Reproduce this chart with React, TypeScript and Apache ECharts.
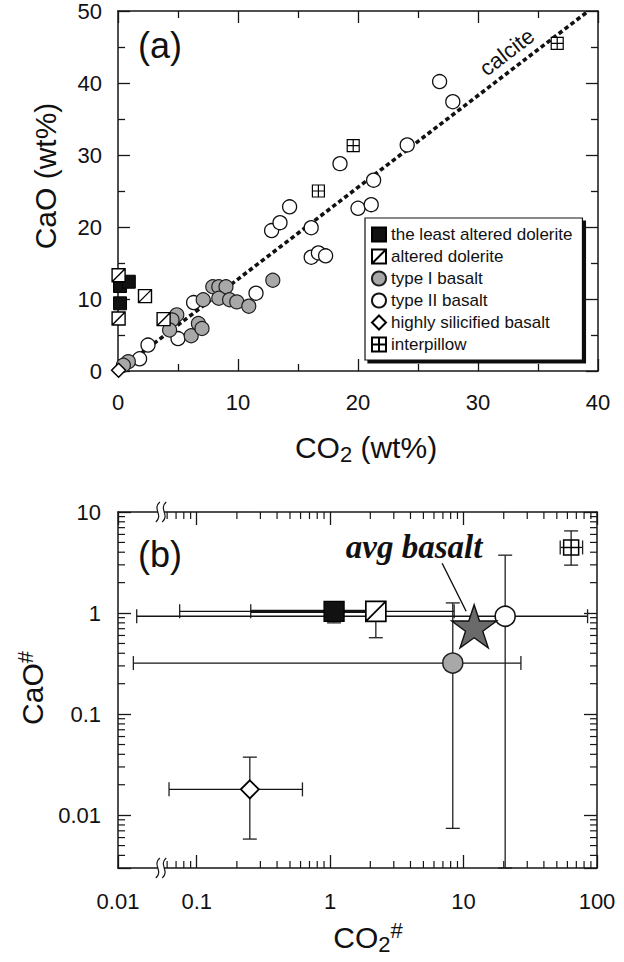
import React, { useEffect, useRef } from 'react';
import * as echarts from 'echarts';

const FONT = '"Liberation Sans", Arial, Helvetica, sans-serif';
const SERIF = '"Liberation Serif", "Times New Roman", serif';
const INK = '#161616';

// ---------- Panel (a): CaO vs CO2 (wt%) ----------
const leastAlteredA = [[0.17, 11.8], [0.9, 12.4], [0.17, 9.4]];
const alteredA = [[0.05, 13.3], [2.25, 10.4], [0.05, 7.3], [3.8, 7.2]];
const typeIA = [
  [0.86, 1.3], [0.45, 0.8], [4.9, 7.8], [4.5, 7.1], [4.3, 5.7], [6.1, 4.9], [6.7, 6.6],
  [7.0, 5.9], [7.1, 9.9], [7.9, 11.7], [8.4, 11.7], [9.0, 11.7], [8.4, 10.1], [9.3, 9.9],
  [9.9, 9.6], [10.9, 9.0], [12.9, 12.6],
];
const typeIIA = [
  [2.5, 3.6], [1.8, 1.7], [5.0, 4.5], [6.3, 9.5], [11.5, 10.8], [12.8, 19.5], [13.5, 20.6],
  [14.3, 22.8], [16.1, 19.9], [16.1, 15.8], [16.7, 16.4], [17.3, 16.0], [18.5, 28.8],
  [21.3, 26.5], [20.0, 22.6], [21.1, 23.1], [24.1, 31.4], [26.8, 40.2], [27.9, 37.4],
];
const silicifiedA = [[0.05, 0.1]];
const interpillowA = [[16.7, 25.0], [19.6, 31.3], [36.6, 45.5]];
const calciteLine = [[0, 0], [39.2, 50]];

// ---------- Panel (b): CaO# vs CO2# (log) ----------
const bNames = [
  'the least altered dolerite', 'altered dolerite', 'type I basalt',
  'type II basalt', 'highly silicified basalt', 'interpillow',
];
const bX = [1.07, 2.2, 8.3, 20.5, 0.25, 64];
const bY = [1.04, 1.04, 0.32, 0.93, 0.018, 4.46];
const bXLow = [0.254, 0.0745, 0.0335, 0.0355, 0.062, 53];
const bXHigh = [2.2, 8.5, 26.9, 85, 0.62, 78];
const bYLow = [0.8, 0.57, 0.0074, 0.003, 0.0058, 2.98];
const bYHigh = [1.2, 1.2, 1.26, 3.74, 0.0375, 6.5];
const bThick = [1, 0, 0, 0, 0, 0];
const avgBasalt = [[12.0, 0.74]];

const X_MIN_B = 0.0257; // left edge (shown as 0.01 beyond the axis break)
const X_MAX_B = 100;
const Y_MIN_B = 0.003;
const Y_MAX_B = 10;
const X_BREAK_B = 0.054;

const minorLog = (from: number, to: number) => {
  const out: number[] = [];
  for (let e = -3; e <= 2; e++) {
    for (let m = 2; m <= 9; m++) {
      const v = Number((m * Math.pow(10, e)).toPrecision(6));
      if (v >= from && v <= to) out.push(v);
    }
  }
  return out;
};
const xMinorB = minorLog(0.055, 99);
const yMinorB = minorLog(0.0031, 9.9);

const SQ_DIAG = 'path://M0,0H10V10H0Z M0,10L10,0';
const SQ_PLUS = 'path://M0,0H10V10H0Z M5,0V10 M0,5H10';
const STAR = 'path://M50,2 L61.2,36 L97,36 L68,57.5 L79.5,92 L50,71 L20.5,92 L32,57.5 L3,36 L38.8,36 Z';

const styles: Record<string, any> = {
  'the least altered dolerite': { symbol: 'rect', color: '#111', borderColor: '#000', borderWidth: 1 },
  'altered dolerite': { symbol: SQ_DIAG, color: '#fff', borderColor: '#000', borderWidth: 1.4 },
  'type I basalt': { symbol: 'circle', color: '#a8a8a8', borderColor: '#1e1e1e', borderWidth: 1.2 },
  'type II basalt': { symbol: 'circle', color: '#fff', borderColor: '#111', borderWidth: 1.3 },
  'highly silicified basalt': { symbol: 'diamond', color: '#fff', borderColor: '#000', borderWidth: 1.5 },
  'interpillow': { symbol: SQ_PLUS, color: '#fff', borderColor: '#000', borderWidth: 1.2 },
};

const fmtLog = (v: number) => {
  const l = Math.log10(v);
  const r = Math.round(l);
  if (Math.abs(l - r) < 1e-6) return String(Number(Math.pow(10, r).toPrecision(6)));
  return '';
};

const axisLineStyle = { color: INK, width: 1.5 };
const tickStyle = { color: INK, width: 1.3 };
const labelBase = { fontSize: 22, color: '#111', fontFamily: FONT };

export default function App() {
  const ref = useRef<HTMLDivElement>(null);
  useEffect(() => {
    if (!ref.current) return;
    const chart = echarts.init(ref.current, undefined, { renderer: 'svg' });

    const valueAxis = (gridIndex: number, position: string, min: number, max: number, interval: number, showLabel: boolean, margin: number) => ({
      gridIndex, type: 'value', position, min, max, interval,
      axisLine: { show: true, onZero: false, lineStyle: axisLineStyle },
      axisTick: { show: true, inside: true, length: 12, lineStyle: tickStyle },
      minorTick: { show: true, splitNumber: 2, length: 7, lineStyle: tickStyle },
      axisLabel: { show: showLabel, margin, ...labelBase },
      splitLine: { show: false }, minorSplitLine: { show: false },
    });
    const logAxis = (gridIndex: number, position: string, min: number, max: number, showLabel: boolean, margin: number, formatter: (v: number) => string) => ({
      gridIndex, type: 'log', logBase: 10, position, min, max,
      axisLine: { show: true, onZero: false, lineStyle: axisLineStyle },
      axisTick: { show: true, inside: true, length: 13, lineStyle: tickStyle },
      minorTick: { show: false },
      axisLabel: { show: showLabel, margin, formatter, showMinLabel: true, showMaxLabel: true, ...labelBase },
      splitLine: { show: false }, minorSplitLine: { show: false },
    });

    const xFmtB = (v: number) => (Math.abs(v / X_MIN_B - 1) < 1e-3 ? '0.01' : fmtLog(v));
    const yFmtB = (v: number) => fmtLog(v);

    const scatterA = (name: string, data: number[][], size: number) => {
      const s = styles[name];
      return {
        name, type: 'scatter', xAxisIndex: 0, yAxisIndex: 0, data,
        symbol: s.symbol, symbolSize: size, clip: false, z: 4,
        itemStyle: { color: s.color, borderColor: s.borderColor, borderWidth: s.borderWidth, opacity: 1 },
      };
    };
    const scatterB = (i: number, size: number) => {
      const name = bNames[i];
      const s = styles[name];
      return {
        name, id: 'b' + i, type: 'scatter', xAxisIndex: 2, yAxisIndex: 2, data: [[bX[i], bY[i]]],
        symbol: s.symbol, symbolSize: size, clip: false, z: 5,
        itemStyle: { color: s.color, borderColor: s.borderColor, borderWidth: s.borderWidth + 0.3, opacity: 1 },
      };
    };

    const errRows = bNames.map((_, i) => [bX[i], bY[i], bXLow[i], bXHigh[i], bYLow[i], bYHigh[i], bThick[i]]);
    const renderErr = (params: any, api: any) => {
      const x = api.value(0), y = api.value(1);
      const pl = api.coord([api.value(2), y]);
      const pr = api.coord([api.value(3), y]);
      const pb = api.coord([x, api.value(4)]);
      const pt = api.coord([x, api.value(5)]);
      const thick = api.value(6) === 1;
      const cap = 7;
      const st = { stroke: '#202020', lineWidth: 1.3 };
      return {
        type: 'group',
        children: [
          { type: 'line', shape: { x1: pl[0], y1: pl[1], x2: pr[0], y2: pr[1] }, style: { stroke: '#151515', lineWidth: thick ? 3.2 : 1.3 } },
          { type: 'line', shape: { x1: pl[0], y1: pl[1] - cap, x2: pl[0], y2: pl[1] + cap }, style: st },
          { type: 'line', shape: { x1: pr[0], y1: pr[1] - cap, x2: pr[0], y2: pr[1] + cap }, style: st },
          { type: 'line', shape: { x1: pb[0], y1: pb[1], x2: pt[0], y2: pt[1] }, style: st },
          { type: 'line', shape: { x1: pb[0] - cap, y1: pb[1], x2: pb[0] + cap, y2: pb[1] }, style: st },
          { type: 'line', shape: { x1: pt[0] - cap, y1: pt[1], x2: pt[0] + cap, y2: pt[1] }, style: st },
        ],
      };
    };
    const renderXMinor = (params: any, api: any) => {
      const v = api.value(0);
      const top = api.coord([v, Y_MAX_B]);
      const bot = api.coord([v, Y_MIN_B]);
      const st = { stroke: INK, lineWidth: 1.2 };
      return {
        type: 'group',
        children: [
          { type: 'line', shape: { x1: top[0], y1: top[1], x2: top[0], y2: top[1] + 7 }, style: st },
          { type: 'line', shape: { x1: bot[0], y1: bot[1], x2: bot[0], y2: bot[1] - 7 }, style: st },
        ],
      };
    };
    const renderYMinor = (params: any, api: any) => {
      const v = api.value(1);
      const l = api.coord([X_MIN_B, v]);
      const r = api.coord([X_MAX_B, v]);
      const st = { stroke: INK, lineWidth: 1.2 };
      return {
        type: 'group',
        children: [
          { type: 'line', shape: { x1: l[0], y1: l[1], x2: l[0] + 7, y2: l[1] }, style: st },
          { type: 'line', shape: { x1: r[0], y1: r[1], x2: r[0] - 7, y2: r[1] }, style: st },
        ],
      };
    };
    const renderBreak = (params: any, api: any) => {
      const p = api.coord([api.value(0), api.value(1)]);
      const mk = (dx: number) => ({
        type: 'bezierCurve',
        shape: {
          x1: p[0] + dx + 2, y1: p[1] - 10, cpx1: p[0] + dx - 6, cpy1: p[1] - 3,
          cpx2: p[0] + dx + 6, cpy2: p[1] + 3, x2: p[0] + dx - 2, y2: p[1] + 10,
        },
        style: { stroke: INK, lineWidth: 1.2, fill: null },
      });
      return {
        type: 'group',
        children: [
          { type: 'rect', shape: { x: p[0] - 3, y: p[1] - 2.5, width: 6, height: 5 }, style: { fill: '#fff' } },
          mk(-3.2), mk(3.2),
        ],
      };
    };
    const renderAnno = (params: any, api: any) => {
      const c = api.coord([api.value(0), api.value(1)]);
      return {
        type: 'group',
        children: [
          { type: 'line', shape: { x1: c[0] - 32, y1: c[1] - 63, x2: c[0] - 8, y2: c[1] - 15 }, style: { stroke: '#111', lineWidth: 1.4 } },
          {
            type: 'text', x: c[0] - 60, y: c[1] - 79,
            style: { text: 'avg basalt', fontFamily: SERIF, fontSize: 33, fontWeight: 'bold', fontStyle: 'italic', fill: '#111', align: 'center', verticalAlign: 'middle' },
          },
        ],
      };
    };

    const option: any = {
      animation: false,
      backgroundColor: '#fff',
      textStyle: { fontFamily: FONT },
      grid: [
        { left: 118, top: 11, width: 480, height: 360 },
        { left: 118, top: 512, width: 479, height: 356 },
      ],
      xAxis: [
        valueAxis(0, 'bottom', 0, 40, 10, true, 20),
        valueAxis(0, 'top', 0, 40, 10, false, 8),
        logAxis(1, 'bottom', X_MIN_B, X_MAX_B, true, 22, xFmtB),
        logAxis(1, 'top', X_MIN_B, X_MAX_B, false, 8, xFmtB),
      ],
      yAxis: [
        valueAxis(0, 'left', 0, 50, 10, true, 16),
        valueAxis(0, 'right', 0, 50, 10, false, 8),
        logAxis(1, 'left', Y_MIN_B, Y_MAX_B, true, 17, yFmtB),
        logAxis(1, 'right', Y_MIN_B, Y_MAX_B, false, 8, yFmtB),
      ],
      legend: {
        data: bNames,
        orient: 'vertical',
        left: 365, top: 218,
        padding: [8, 10, 7, 6],
        itemGap: 5, itemWidth: 14, itemHeight: 14,
        backgroundColor: '#fff', borderColor: '#111', borderWidth: 1.2,
        shadowColor: '#111', shadowBlur: 0, shadowOffsetX: 3, shadowOffsetY: 3,
        textStyle: { fontSize: 17, color: '#111', fontFamily: FONT },
        selectedMode: false,
      },
      graphic: [
        { type: 'text', x: 160, y: 45, style: { text: '(a)', fontSize: 36, fontFamily: FONT, fill: '#111', align: 'center', verticalAlign: 'middle' } },
        { type: 'text', x: 160, y: 554, style: { text: '(b)', fontSize: 36, fontFamily: FONT, fill: '#111', align: 'center', verticalAlign: 'middle' } },
        { type: 'text', x: 45, y: 176, rotation: Math.PI / 2, style: { text: 'CaO (wt%)', fontSize: 30, fontFamily: FONT, fill: '#111', align: 'center', verticalAlign: 'middle' } },
        {
          type: 'text', x: 366, y: 447,
          style: {
            text: 'CO{sub|2} (wt%)', fontSize: 30, fontFamily: FONT, fill: '#111', align: 'center', verticalAlign: 'middle',
            rich: { sub: { fontSize: 22, fontFamily: FONT, fill: '#111', padding: [14, 0, 0, 0] } },
          },
        },
        {
          type: 'text', x: 32, y: 688, rotation: Math.PI / 2,
          style: {
            text: 'CaO{sup|#}', fontSize: 30, fontFamily: FONT, fill: '#111', align: 'center', verticalAlign: 'middle',
            rich: { sup: { fontSize: 22, fontFamily: FONT, fill: '#111', padding: [0, 0, 14, 0] } },
          },
        },
        {
          type: 'text', x: 368, y: 937,
          style: {
            text: 'CO{sub|2}{sup|#}', fontSize: 30, fontFamily: FONT, fill: '#111', align: 'center', verticalAlign: 'middle',
            rich: {
              sub: { fontSize: 22, fontFamily: FONT, fill: '#111', padding: [14, 0, 0, 0] },
              sup: { fontSize: 22, fontFamily: FONT, fill: '#111', padding: [0, 0, 14, 0] },
            },
          },
        },
        { type: 'text', x: 507, y: 52, rotation: 0.653, style: { text: 'calcite', fontSize: 22, fontFamily: FONT, fill: '#111', align: 'center', verticalAlign: 'middle' } },
      ],
      series: [
        {
          name: 'calcite', type: 'line', xAxisIndex: 0, yAxisIndex: 0, data: calciteLine,
          symbol: 'none', silent: true, z: 2,
          lineStyle: { color: '#111', width: 3.6, type: [4.5, 3], cap: 'butt' },
        },
        scatterA('type II basalt', typeIIA, 14),
        scatterA('type I basalt', typeIA, 14),
        scatterA('the least altered dolerite', leastAlteredA, 13),
        scatterA('altered dolerite', alteredA, 13),
        scatterA('highly silicified basalt', silicifiedA, 14),
        scatterA('interpillow', interpillowA, 12),

        { type: 'custom', xAxisIndex: 2, yAxisIndex: 2, data: xMinorB.map((v) => [v, 1]), renderItem: renderXMinor, silent: true, z: 2 },
        { type: 'custom', xAxisIndex: 2, yAxisIndex: 2, data: yMinorB.map((v) => [1, v]), renderItem: renderYMinor, silent: true, z: 2 },
        { type: 'custom', xAxisIndex: 2, yAxisIndex: 2, data: [[X_BREAK_B, Y_MAX_B], [X_BREAK_B, Y_MIN_B]], renderItem: renderBreak, silent: true, z: 3 },
        { type: 'custom', xAxisIndex: 2, yAxisIndex: 2, data: errRows, renderItem: renderErr, silent: true, z: 3 },
        { type: 'custom', xAxisIndex: 2, yAxisIndex: 2, data: avgBasalt, renderItem: renderAnno, silent: true, z: 3 },
        scatterB(0, 20), scatterB(1, 20), scatterB(2, 20), scatterB(3, 20), scatterB(4, 18), scatterB(5, 15),
        {
          name: 'avg basalt', type: 'scatter', xAxisIndex: 2, yAxisIndex: 2, data: avgBasalt,
          symbol: STAR, symbolSize: 45, symbolKeepAspect: true, clip: false, z: 6,
          itemStyle: { color: '#6a6a6a', borderColor: '#111', borderWidth: 1.4, opacity: 1 },
        },
      ],
    };
    chart.setOption(option);
    return () => chart.dispose();
  }, []);

  return (
    <div
      ref={ref}
      style={{ position: 'fixed', left: 0, top: 0, width: 624, height: 962, background: '#fff' }}
    />
  );
}
